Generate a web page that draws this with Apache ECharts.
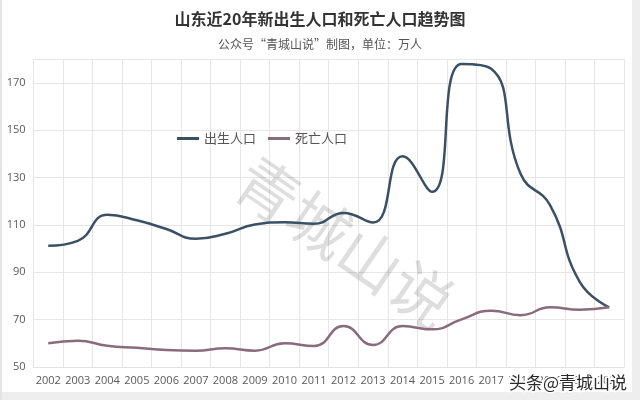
<!DOCTYPE html>
<html>
<head>
<meta charset="utf-8">
<script src="https://cdn.jsdelivr.net/npm/echarts@6/dist/echarts.min.js"></script>
<style>
html,body{margin:0;padding:0;background:#fff;}
#main{width:640px;height:400px;}
</style>
</head>
<body>
<div id="main"></div>
<script>
var years = ['2002','2003','2004','2005','2006','2007','2008','2009','2010','2011','2012','2013','2014','2015','2016','2017','2018','2019','2020','2021'];
var births = [101.2,103.3,114.3,112,108.3,104.2,106.3,110.2,111.2,110.5,115.1,111,139,124,178,176,131.5,118.3,86,75.2];
var deaths = [60,61.1,59,58.1,57.2,56.9,57.9,56.9,60,58.9,67.3,59.3,67.3,65.9,70.1,73.8,71.9,75.2,74.2,75.2];
var yTicks = [50,70,90,110,130,150,170];

var chart = echarts.init(document.getElementById('main'));
chart.setOption({
  backgroundColor: '#ffffff',
  animation: false,
  title: [{
    text: '山东近20年新出生人口和死亡人口趋势图',
    left: 'center', top: 6,
    textStyle: {fontFamily: 'Noto Sans CJK SC', fontSize: 16, fontWeight: 'bold', color: '#333333'}
  }, {
    text: '公众号“青城山说”制图，单位：万人',
    left: 'center', top: 33,
    textStyle: {fontFamily: 'Noto Sans CJK SC', fontSize: 12, fontWeight: 'normal', color: '#555555'}
  }],
  legend: {
    left: 172, top: 127,
    itemWidth: 22, itemHeight: 3, itemGap: 12,
    icon: 'rect',
    textStyle: {fontFamily: 'Noto Sans CJK SC', fontSize: 13, color: '#555555'},
    data: ['出生人口', '死亡人口']
  },
  grid: {left: 33.5, right: 16, top: 59.3, bottom: 33, containLabel: false},
  xAxis: {
    type: 'category',
    data: years,
    boundaryGap: true,
    axisLine: {show: true, lineStyle: {color: '#e3e3e3'}},
    axisTick: {show: false},
    splitLine: {show: true, interval: 0, lineStyle: {color: '#e6e6e6'}},
    axisLabel: {interval: 0, fontFamily: 'Open Sans', fontSize: 11, color: '#595959', margin: 8}
  },
  yAxis: {
    type: 'value',
    min: 50, max: 180, interval: 20,
    axisLine: {show: false},
    axisTick: {show: false},
    splitLine: {show: true, lineStyle: {color: '#e6e6e6'}},
    axisLabel: {
      fontFamily: 'Open Sans', fontSize: 11, color: '#595959', margin: 8,
      formatter: function (v) { return yTicks.indexOf(v) >= 0 ? String(v) : ''; }
    }
  },
  graphic: [
    {type: 'rect', left: 0, top: 392, shape: {width: 640, height: 8}, style: {fill: '#eeeeee'}, z: 0},
    {type: 'rect', left: 632, top: 0, shape: {width: 8, height: 400}, style: {fill: '#eeeeee'}, z: 0},
    {type: 'rect', left: 0, top: 0, shape: {width: 2, height: 400}, style: {fill: '#e4e4e4'}, z: 0},
    {
      type: 'text', x: 345, y: 242, rotation: -0.6, z: 1,
      style: {text: '青城山说', fontSize: 62, fontFamily: 'Noto Sans CJK SC', fill: 'rgba(0,0,0,0.13)', align: 'center', verticalAlign: 'middle'}
    },
    {
      type: 'text', x: 568, y: 383, z: 100,
      style: {text: '头条@青城山说', fontSize: 17, fontFamily: 'Noto Sans CJK SC', fill: '#2a2a2a', stroke: '#ffffff', lineWidth: 3, align: 'center', verticalAlign: 'middle'}
    }
  ],
  series: [{
    name: '出生人口', type: 'line', data: births, smooth: true,
    symbol: 'none', lineStyle: {width: 2.5, color: '#3b5064'}, itemStyle: {color: '#3b5064'}, z: 3
  }, {
    name: '死亡人口', type: 'line', data: deaths, smooth: true,
    symbol: 'none', lineStyle: {width: 2.5, color: '#8a6b7b'}, itemStyle: {color: '#8a6b7b'}, z: 3
  }]
});
</script>
</body>
</html>
